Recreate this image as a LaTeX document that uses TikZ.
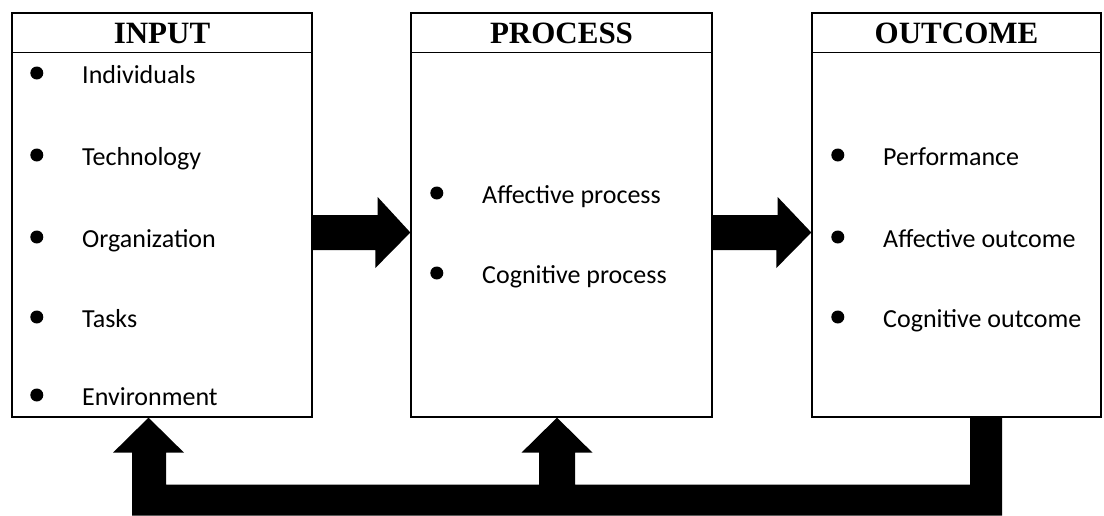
\documentclass[tikz,border=0pt]{standalone}
\usepackage{fontspec}
\setmainfont{Liberation Serif}
\newfontfamily\calibri{Carlito}
\usepackage{tikz}
\usetikzlibrary{calc,positioning}

\begin{document}
\begin{tikzpicture}[x=1pt,y=-1pt,
	    box/.style={draw,line width=1.3pt,minimum height=404pt,inner sep=0pt},
	    head/.style={anchor=base,font=\fontsize{31}{36}\selectfont\bfseries},
	    item/.style={anchor=west,inner sep=0pt,text height=20pt,text depth=0pt,
	        font=\calibri\fontsize{26}{30}\selectfont,
	        label={[circle,fill,inner sep=0pt,minimum size=13pt,xshift=-38.5pt]left:{}}}]
	    \useasboundingbox (0,0) rectangle (1104,515);
	    \node[box,minimum width=300pt] (input) at (162,215) {};
	    \node[box,minimum width=301pt] (process) at (561.5,215) {};
	    \node[box,minimum width=289pt] (outcome) at (956.5,215) {};
	    % header rows
	    \draw[line width=1.3pt] ($(input.north west)+(0,40)$) -- ($(input.north east)+(0,40)$);
	    \draw[line width=1.3pt] ($(process.north west)+(0,40)$) -- ($(process.north east)+(0,40)$);
	    \draw[line width=1.3pt] ($(outcome.north west)+(0,40)$) -- ($(outcome.north east)+(0,40)$);
	    \node[head] (intitle) at ($(input.north)+(0,31.5)$) {INPUT};
	    \node[head] (proctitle) at ($(process.north)+(0,31.5)$) {PROCESS};
	    \node[head] (outtitle) at ($(outcome.north)+(0,31.5)$) {OUTCOME};
	    % bullet lists
	    \node[item] (ind) at (82,73) {Individuals};
	    \node[item] (tech) at (82,155) {Technology};
	    \node[item] (org) at (82,237) {Organization};
	    \node[item] (task) at (82,317) {Tasks};
	    \node[item] (env) at (82,395) {Environment};
	    \node[item] (affproc) at (482,193) {Affective process};
	    \node[item] (cogproc) at (482,273) {Cognitive process};
	    \node[item] (perf) at (883,155) {Performance};
	    \node[item] (affout) at (883,237) {Affective outcome};
	    \node[item] (cogout) at (883,317) {Cognitive outcome};
	    % block arrows
	    \fill (input.east) -- ++(65,0) -- ++(0,-18) -- ($(process.west)+(0,17.5)$) -- ++(-35,35.5) -- ++(0,-18) -- ($(input.east)+(0,35)$) -- cycle;
	    \fill (process.east) -- ++(65,0) -- ++(0,-18) -- ($(outcome.west)+(0,17.5)$) -- ++(-35,35.5) -- ++(0,-18) -- ($(process.east)+(0,35)$) -- cycle;
	    % feedback loop
	    \coordinate (fbin) at ($(input.south)+(-13.5,0)$);
	    \coordinate (fbproc) at ($(process.south)+(-4.5,0)$);
	    \coordinate (fbout) at ($(outcome.south)+(29.5,0)$);
	    \fill ($(fbout)+(-16,0)$) -- ($(fbout)+(16,0)$) -- ($(fbout)+(16,98)$) -- ($(fbin)+(-16.5,98)$)
	        -- ($(fbin)+(-16.5,35)$) -- ($(fbin)+(-35.5,35)$) -- (fbin) -- ($(fbin)+(35.5,35)$)
	        -- ($(fbin)+(17.5,35)$) -- ($(fbin)+(17.5,67)$) -- ($(fbproc)+(-18,67)$)
	        -- ($(fbproc)+(-18,35)$) -- ($(fbproc)+(-35.5,35)$) -- (fbproc) -- ($(fbproc)+(35.5,35)$)
	        -- ($(fbproc)+(18,35)$) -- ($(fbproc)+(18,67)$) -- ($(fbout)+(-16,67)$) -- cycle;
\end{tikzpicture}
\end{document}
